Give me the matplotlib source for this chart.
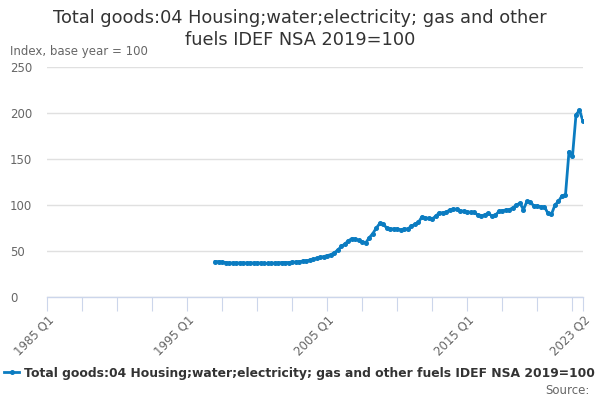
import matplotlib
matplotlib.use("Agg")
import matplotlib.pyplot as plt

# Category axis: quarters 1985 Q1 .. 2023 Q2
years = list(range(1985, 2024))
quarters = [f"{y} Q{q}" for y in years for q in range(1, 5)]
quarters = quarters[:quarters.index("2023 Q2") + 1]

title_lines = ["Total goods:04 Housing;water;electricity; gas and other",
               "fuels IDEF NSA 2019=100"]
series_name = "Total goods:04 Housing;water;electricity; gas and other fuels IDEF NSA 2019=100"
series_start = "1997 Q1"
values = [
    38.5, 38.5, 38, 37.5,      # 1997
    37, 37, 37, 37,            # 1998
    37, 37, 37, 37,            # 1999
    37, 37, 36.5, 36.5,        # 2000
    36.5, 37, 37, 37.5,        # 2001
    37.5, 37.5, 38, 38,        # 2002
    38.5, 39, 39.5, 40,        # 2003
    41, 42, 43, 44,            # 2004
    45, 46, 48, 51,            # 2005
    55, 57.5, 61, 63.5,        # 2006
    63, 61.5, 60, 59,          # 2007
    64.5, 69, 75, 80,          # 2008
    79, 75, 74, 74,            # 2009
    74, 73, 74, 74,            # 2010
    77, 79, 81, 87,            # 2011
    86, 85.5, 85, 88,          # 2012
    91.5, 91.5, 92, 95,        # 2013
    95.5, 95.5, 94, 93,        # 2014
    92.5, 92, 92, 89,          # 2015
    88, 89.5, 91, 88,          # 2016
    89, 93, 94, 94.5,          # 2017
    95, 97, 100, 102,          # 2018
    95, 104, 103, 99,          # 2019
    99, 98, 98, 91,            # 2020
    90, 100, 104, 110,         # 2021
    111, 158, 153, 198,        # 2022
    203, 191,                  # 2023
]
tick_labels = ["1985 Q1", "1995 Q1", "2005 Q1", "2015 Q1", "2023 Q2"]
y_ticks = [0, 50, 100, 150, 200, 250]

start = quarters.index(series_start)
xs = list(range(start, start + len(values)))

fig = plt.figure(figsize=(6, 4), dpi=100)
ax = fig.add_axes([47/600, 1-297/400, (583-47)/600, (297-67)/400])

ax.plot(xs, values, color="#0b7cc1", lw=2, marker="o", ms=2.6, zorder=3,
        label=series_name)

ax.set_xlim(0, len(quarters) - 1)
ax.set_ylim(0, 250)
ax.set_yticks(y_ticks)
ax.set_yticklabels([str(v) for v in y_ticks])
ax.yaxis.grid(True, color="#e0e0e0", lw=1)
ax.set_axisbelow(True)

for s in ["top", "right", "left"]:
    ax.spines[s].set_visible(False)
ax.spines["bottom"].set_color("#ccd6eb")
ax.spines["bottom"].set_linewidth(1)

# y labels left-aligned starting at x=10 px (pad in points: 37 px * 0.72)
ax.tick_params(axis="y", length=0, labelsize=8.5, labelcolor="#666666", pad=26.6)
for lab in ax.get_yticklabels():
    lab.set_horizontalalignment("left")

major = list(range(0, len(quarters) - 1, 10))
major.append(len(quarters) - 1)
ax.set_xticks(major)
ax.set_xticklabels([quarters[i] if quarters[i] in tick_labels else "" for i in major],
                   rotation=45, ha="right", rotation_mode="anchor")
ax.tick_params(axis="x", length=10, color="#ccd6eb", labelsize=8.5,
               labelcolor="#666666", pad=2)

fig.text(0.5, 1-18/400, title_lines[0], ha="center", va="center",
         fontsize=12.8, color="#333333")
fig.text(0.5, 1-40/400, title_lines[1], ha="center", va="center",
         fontsize=12.8, color="#333333")
fig.text(10/600, 1-52/400, "Index, base year = 100", ha="left", va="center",
         fontsize=8.5, color="#666666")

leg = fig.legend(loc="center left", bbox_to_anchor=(3/600, 1-373/400), frameon=False,
                 prop={"weight": "bold", "size": 8.9}, handlelength=1.2,
                 handletextpad=0.4, borderaxespad=0, borderpad=0.1)
for t in leg.get_texts():
    t.set_color("#333333")
fig.text(590/600, 1-391/400, "Source:", ha="right", va="center",
         fontsize=8.5, color="#666666")

fig.savefig("out.png", dpi=100)
